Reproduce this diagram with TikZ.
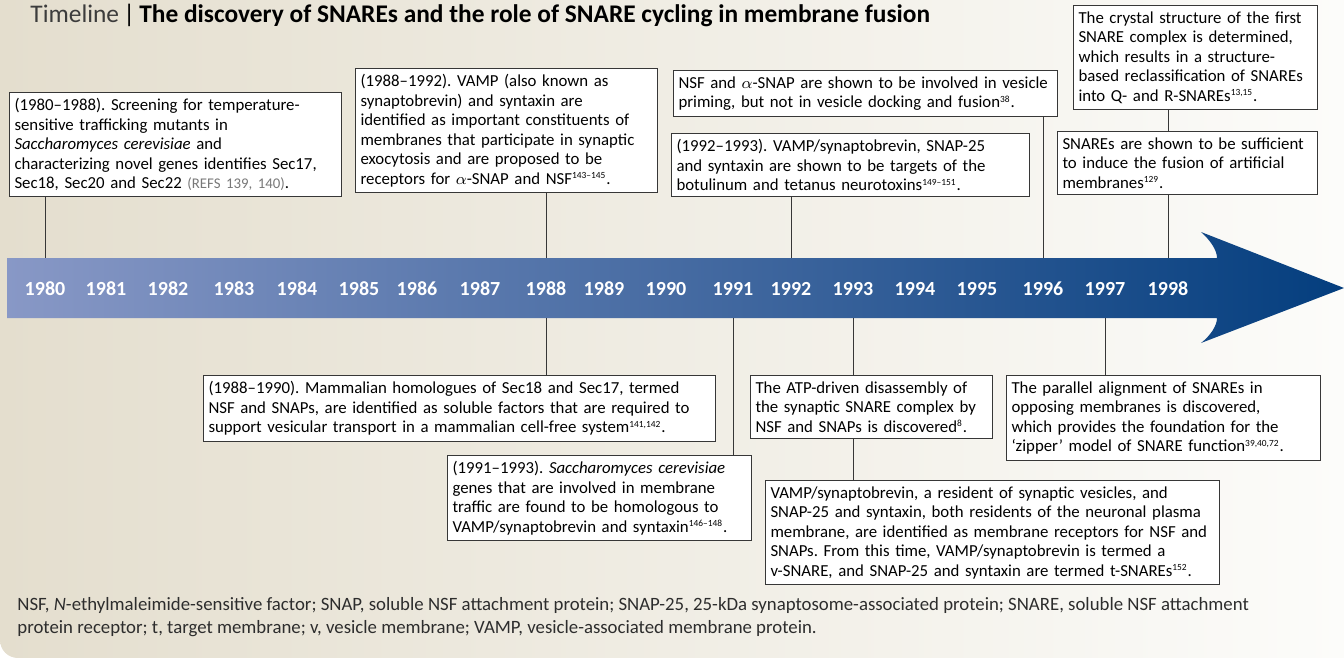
\documentclass[tikz,border=0pt]{standalone}
\usepackage{fontspec}
\setmainfont{Carlito}
\usepackage{xcolor}
\usepackage{tikz}

\definecolor{bgleft}{RGB}{228,222,206}
\definecolor{bgmid}{RGB}{239,236,226}
\definecolor{bgright}{RGB}{252,252,250}
\definecolor{arrleft}{RGB}{136,152,198}
\definecolor{arrmid}{RGB}{66,100,158}
\definecolor{arrright}{RGB}{4,62,126}
\definecolor{boxline}{RGB}{55,55,55}
\definecolor{refgrey}{RGB}{120,120,120}
\definecolor{titlegrey}{RGB}{60,60,60}
\definecolor{notegrey}{RGB}{45,45,45}

\newcommand{\rf}[1]{\textsuperscript{\fontsize{4.7}{5}\selectfont #1}}
\newcommand{\refsgrey}[1]{{\color{refgrey}\fontsize{7.4}{9}\selectfont #1}}
\frenchspacing

\begin{document}
\begin{tikzpicture}[x=0.5pt, y=-0.5pt,
  event/.style={draw=boxline, line width=0.5pt, fill=white, anchor=north west,
    align=left, inner xsep=2.5pt, inner ysep=3pt, font=\fontsize{8.4}{9.75}\selectfont},
  link/.style={draw=boxline, line width=0.5pt},
  yearlbl/.style={text=white, inner sep=0pt, font=\fontsize{10}{12}\selectfont\bfseries}]

\useasboundingbox (0,0) rectangle (1344,658);
% background panel
\shade[left color=bgleft, middle color=bgmid, right color=bgright]
  (0,0) -- (0,640) .. controls (0,650) and (8,658) .. (18,658) -- (1344,658) -- (1344,0) -- cycle;

% title
\node[anchor=west, inner sep=0pt, font=\fontsize{12.7}{15}\selectfont] (title) at (30,15)
  {{\color{titlegrey}Timeline}\,|\,\textbf{The discovery of SNAREs and the role of SNARE cycling in membrane fusion}};

% time arrow
\coordinate (atop) at (7,258);
\coordinate (abot) at (7,318);
\shade[left color=arrleft, middle color=arrmid, right color=arrright]
  (7,258) -- (1217,258) .. controls (1217,250) and (1210,240) .. (1201,232) -- (1344,288)
  -- (1201,343) .. controls (1210,336) and (1217,326) .. (1217,318) -- (7,318) -- cycle;

\foreach \yr/\xx in {1980/45, 1981/106, 1982/168, 1983/234, 1984/297, 1985/359, 1986/417,
  1987/480, 1988/546, 1989/604, 1990/666, 1991/733, 1992/791, 1993/853, 1994/915,
  1995/977, 1996/1043, 1997/1105, 1998/1168}
  \node[yearlbl] (y\yr) at (\xx,289) {\yr};

% events above the arrow
\node[event, text width=161pt] (b1) at (9,92) {(1980--1988). Screening for temperature-\\
  sensitive trafficking mutants in\\
  \textit{Saccharomyces cerevisiae} and\\
  characterizing novel genes identifies Sec17,\\
  Sec18, Sec20 and Sec22 \refsgrey{(REFS 139, 140)}.};
\node[event, text width=146pt] (b2) at (355,68) {(1988--1992). VAMP (also known as\\
  synaptobrevin) and syntaxin are\\
  identified as important constituents of\\
  membranes that participate in synaptic\\
  exocytosis and are proposed to be\\
  receptors for $\alpha$-SNAP and NSF\rf{143--145}.};
\node[event, text width=187pt] (b3) at (673,70) {NSF and $\alpha$-SNAP are shown to be involved in vesicle\\
  priming, but not in vesicle docking and fusion\rf{38}.};
\node[event, text width=174pt] (b4) at (671,133) {(1992--1993). VAMP/synaptobrevin, SNAP-25\\
  and syntaxin are shown to be targets of the\\
  botulinum and tetanus neurotoxins\rf{149--151}.};
\node[event, text width=117pt] (b5) at (1073,5) {The crystal structure of the first\\
  SNARE complex is determined,\\
  which results in a structure-\\
  based reclassification of SNAREs\\
  into Q- and R-SNAREs\rf{13,15}.};
\node[event, text width=125pt] (b6) at (1057,131) {SNAREs are shown to be sufficient\\
  to induce the fusion of artificial\\
  membranes\rf{129}.};

% events below the arrow
\node[event, text width=251pt] (b7) at (203,375) {(1988--1990). Mammalian homologues of Sec18 and Sec17, termed\\
  NSF and SNAPs, are identified as soluble factors that are required to\\
  support vesicular transport in a mammalian cell-free system\rf{141,142}.};
\node[event, text width=147pt] (b8) at (447,455) {(1991--1993). \textit{Saccharomyces cerevisiae}\\
  genes that are involved in membrane\\
  traffic are found to be homologous to\\
  VAMP/synaptobrevin and syntaxin\rf{146--148}.};
\node[event, text width=116pt] (b9) at (750,375) {The ATP-driven disassembly of\\
  the synaptic SNARE complex by\\
  NSF and SNAPs is discovered\rf{8}.};
\node[event, text width=222pt] (b10) at (765,480) {VAMP/synaptobrevin, a resident of synaptic vesicles, and\\
  SNAP-25 and syntaxin, both residents of the neuronal plasma\\
  membrane, are identified as membrane receptors for NSF and\\
  SNAPs. From this time, VAMP/synaptobrevin is termed a\\
  v-SNARE, and SNAP-25 and syntaxin are termed t-SNAREs\rf{152}.};
\node[event, text width=152pt] (b11) at (1006,375) {The parallel alignment of SNAREs in\\
  opposing membranes is discovered,\\
  which provides the foundation for the\\
  `zipper' model of SNARE function\rf{39,40,72}.};

% connectors
\draw[link] (b1.south -| y1980) to (y1980 |- atop);
\draw[link] (b2.south -| y1988) to (y1988 |- atop);
\draw[link] (b4.south -| y1992) to (y1992 |- atop);
\draw[link] (b3.south -| y1996) to (y1996 |- atop);
\draw[link] (b5.south -| y1998) to (b6.north -| y1998);
\draw[link] (b6.south -| y1998) to (y1998 |- atop);
\draw[link] (y1988 |- abot) to (b7.north -| y1988);
\draw[link] (y1991 |- abot) to (b8.north -| y1991);
\draw[link] (y1993 |- abot) to (b9.north -| y1993);
\draw[link] (b9.south -| y1993) to (b10.north -| y1993);
\draw[link] (y1997 |- abot) to (b11.north -| y1997);

% abbreviations
\node[anchor=north west, align=left, inner sep=0pt, text=notegrey,
  font=\fontsize{9.4}{11.5}\selectfont] (abbr) at (17,597)
  {NSF, \textit{N}-ethylmaleimide-sensitive factor; SNAP, soluble NSF attachment protein; SNAP-25, 25-kDa synaptosome-associated protein; SNARE, soluble NSF attachment\\
  protein receptor; t, target membrane; v, vesicle membrane; VAMP, vesicle-associated membrane protein.};
\end{tikzpicture}
\end{document}
